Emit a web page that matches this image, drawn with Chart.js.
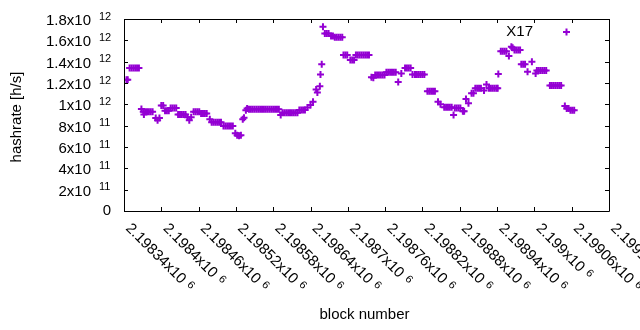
<!DOCTYPE html>
<html lang="en">
<head>
<meta charset="UTF-8">
<title>X17 hashrate</title>
<script src="https://cdn.jsdelivr.net/npm/chart.js@4.4.1/dist/chart.umd.min.js"></script>
<style>
  html, body { margin: 0; padding: 0; background: #fff; }
</style>
</head>
<body>
<canvas id="hashChart" width="640" height="330"></canvas>
<script>
// block numbers and hashrate, one line per run
const blocks = [
  2198344, 2198346,
  2198349, 2198352, 2198355, 2198358, 2198361, 2198364,
  2198368, 2198371, 2198372, 2198374, 2198377, 2198380, 2198383, 2198386,
  2198391, 2198394, 2198397,
  2198400, 2198403,
  2198406, 2198409, 2198412, 2198415, 2198418, 2198421, 2198424,
  2198427, 2198430, 2198433, 2198436, 2198439,
  2198442, 2198445, 2198448,
  2198452, 2198455, 2198458, 2198461, 2198464, 2198467, 2198470, 2198473,
  2198478, 2198481, 2198484, 2198487, 2198490, 2198493, 2198496,
  2198500, 2198503, 2198506, 2198509, 2198512, 2198515,
  2198519, 2198522, 2198525, 2198528,
  2198531, 2198533, 2198536, 2198538,
  2198541, 2198544, 2198547, 2198550, 2198553, 2198556, 2198559, 2198562, 2198565,
  2198568, 2198571, 2198574, 2198577, 2198580, 2198583, 2198586, 2198589,
  2198592, 2198595, 2198598, 2198601, 2198604, 2198607, 2198610, 2198613, 2198616, 2198619,
  2198622, 2198625, 2198628, 2198631,
  2198635, 2198640, 2198644, 2198649, 2198651, 2198655, 2198656, 2198658, 2198660,
  2198663, 2198666, 2198669,
  2198673, 2198676, 2198679, 2198682, 2198685, 2198688, 2198691,
  2198693, 2198696, 2198699,
  2198704, 2198707, 2198710,
  2198713, 2198716, 2198719, 2198722, 2198725, 2198728, 2198731, 2198734,
  2198738, 2198741, 2198744, 2198747, 2198750, 2198753, 2198756, 2198759,
  2198762, 2198765, 2198768, 2198771, 2198774, 2198777,
  2198781, 2198786, 2198792, 2198795, 2198798, 2198801, 2198804,
  2198808, 2198811, 2198814, 2198817, 2198820, 2198823,
  2198828, 2198831, 2198834, 2198837, 2198840,
  2198845, 2198849,
  2198855, 2198858, 2198861, 2198864, 2198867,
  2198870, 2198872, 2198875, 2198878, 2198881, 2198885, 2198887,
  2198890, 2198894, 2198899, 2198902,
  2198905, 2198908, 2198911, 2198914, 2198919, 2198923,
  2198927, 2198930, 2198933, 2198936, 2198939, 2198941,
  2198942, 2198946, 2198949, 2198952, 2198955, 2198959,
  2198963, 2198965, 2198968, 2198971, 2198974, 2198977,
  2198979, 2198982, 2198985, 2198989, 2198996,
  2199002, 2199004, 2199007, 2199010, 2199013, 2199016, 2199019,
  2199025, 2199028, 2199031, 2199034, 2199037, 2199040, 2199043,
  2199049, 2199052, 2199055, 2199058, 2199061, 2199064
];
const hashrate = [
  1.23e12, 1.23e12,
  1.34e12, 1.34e12, 1.34e12, 1.34e12, 1.34e12, 1.34e12,
  9.56e11, 9.3e11, 9.05e11, 9.3e11, 9.3e11, 9.3e11, 9.3e11, 9.3e11,
  8.72e11, 8.5e11, 8.72e11,
  9.9e11, 9.9e11,
  9.4e11, 9.4e11, 9.4e11, 9.65e11, 9.65e11, 9.65e11, 9.65e11,
  9.05e11, 9.05e11, 9.05e11, 9.05e11, 9.05e11,
  8.8e11, 8.5e11, 8.8e11,
  9.3e11, 9.3e11, 9.3e11, 9.3e11, 9.15e11, 9.15e11, 9.15e11, 9.15e11,
  8.6e11, 8.32e11, 8.32e11, 8.32e11, 8.32e11, 8.32e11, 8.32e11,
  7.97e11, 7.97e11, 7.97e11, 7.97e11, 7.97e11, 7.97e11,
  7.3e11, 7.1e11, 7.05e11, 7.1e11,
  8.6e11, 8.75e11, 9.45e11, 9.6e11,
  9.55e11, 9.55e11, 9.55e11, 9.55e11, 9.55e11, 9.55e11, 9.55e11, 9.55e11, 9.55e11,
  9.55e11, 9.55e11, 9.55e11, 9.55e11, 9.55e11, 9.55e11, 9.55e11, 9.55e11,
  9.0e11, 9.22e11, 9.22e11, 9.22e11, 9.22e11, 9.22e11, 9.22e11, 9.22e11, 9.22e11, 9.22e11,
  9.47e11, 9.47e11, 9.47e11, 9.47e11,
  9.7e11, 9.94e11, 1.025e12, 1.14e12, 1.11e12, 1.17e12, 1.28e12, 1.375e12, 1.728e12,
  1.665e12, 1.665e12, 1.665e12,
  1.64e12, 1.64e12, 1.628e12, 1.628e12, 1.628e12, 1.628e12, 1.628e12,
  1.4625e12, 1.4625e12, 1.4625e12,
  1.416e12, 1.416e12, 1.416e12,
  1.4625e12, 1.4625e12, 1.4625e12, 1.4625e12, 1.4625e12, 1.4625e12, 1.4625e12, 1.4625e12,
  1.253e12, 1.25e12, 1.275e12, 1.275e12, 1.275e12, 1.275e12, 1.275e12, 1.275e12,
  1.30e12, 1.30e12, 1.30e12, 1.30e12, 1.30e12, 1.30e12,
  1.21e12, 1.29e12, 1.34e12, 1.34e12, 1.34e12, 1.34e12, 1.28e12,
  1.28e12, 1.28e12, 1.28e12, 1.28e12, 1.28e12, 1.28e12,
  1.122e12, 1.122e12, 1.122e12, 1.122e12, 1.122e12,
  1.025e12, 1.0e12,
  9.72e11, 9.72e11, 9.72e11, 9.72e11, 9.72e11,
  9.0e11, 9.65e11, 9.65e11, 9.65e11, 9.65e11, 9.35e11, 9.35e11,
  1.05e12, 1.01e12, 1.105e12, 1.105e12,
  1.15e12, 1.15e12, 1.15e12, 1.15e12, 1.13e12, 1.185e12,
  1.15e12, 1.15e12, 1.15e12, 1.15e12, 1.15e12, 1.15e12,
  1.284e12, 1.497e12, 1.497e12, 1.497e12, 1.497e12, 1.453e12,
  1.54e12, 1.53e12, 1.51e12, 1.51e12, 1.51e12, 1.51e12,
  1.375e12, 1.375e12, 1.375e12, 1.306e12, 1.40e12,
  1.29e12, 1.318e12, 1.318e12, 1.318e12, 1.318e12, 1.318e12, 1.318e12,
  1.177e12, 1.177e12, 1.177e12, 1.177e12, 1.177e12, 1.177e12, 1.177e12,
  9.84e11, 9.6e11, 9.6e11, 9.45e11, 9.45e11, 9.45e11
];

const xTicks = [2198340, 2198400, 2198460, 2198520, 2198580, 2198640, 2198700,
  2198760, 2198820, 2198880, 2198940, 2199000, 2199060, 2199120];
const xTickLabels = ['2.19834x10', '2.1984x10', '2.19846x10', '2.19852x10', '2.19858x10',
  '2.19864x10', '2.1987x10', '2.19876x10', '2.19882x10', '2.19888x10', '2.19894x10',
  '2.199x10', '2.19906x10', '2.19912x10'];
const xTickPowers = ['6', '6', '6', '6', '6', '6', '6', '6', '6', '6', '6', '6', '6', '6'];

const yTicks = [0, 2e11, 4e11, 6e11, 8e11, 1e12, 1.2e12, 1.4e12, 1.6e12, 1.8e12];
const yTickLabels = ['0', '2x10', '4x10', '6x10', '8x10', '1x10', '1.2x10', '1.4x10', '1.6x10', '1.8x10'];
const yTickPowers = ['', '11', '11', '11', '11', '12', '12', '12', '12', '12'];

const seriesName = 'X17';
const purple = '#9400d3';
const font = '"Liberation Sans", Arial, sans-serif';

// gnuplot look: frame, inward ticks on all sides, labels with superscripts, key
const gnuplotFrame = {
  id: 'gnuplotFrame',
  afterDraw(chart) {
    const { ctx, chartArea: a, scales: { x, y } } = chart;
    const tickLen = 4;
    ctx.save();

    ctx.strokeStyle = '#000';
    ctx.lineWidth = 1;
    ctx.beginPath();
    ctx.rect(a.left + 0.5, a.top + 0.5, a.right - a.left, a.bottom - a.top);
    xTicks.forEach(v => {
      const px = Math.round(x.getPixelForValue(v)) + 0.5;
      ctx.moveTo(px, a.bottom); ctx.lineTo(px, a.bottom - tickLen);
      ctx.moveTo(px, a.top); ctx.lineTo(px, a.top + tickLen);
    });
    yTicks.forEach(v => {
      const py = Math.round(y.getPixelForValue(v)) + 0.5;
      ctx.moveTo(a.left, py); ctx.lineTo(a.left + tickLen, py);
      ctx.moveTo(a.right, py); ctx.lineTo(a.right - tickLen, py);
    });
    ctx.stroke();

    ctx.fillStyle = '#000';
    ctx.textBaseline = 'middle';

    // y tick labels
    yTicks.forEach((v, i) => {
      const py = y.getPixelForValue(v);
      ctx.font = '15px ' + font;
      ctx.textAlign = 'right';
      if (!yTickPowers[i]) {
        ctx.fillText(yTickLabels[i], a.left - 13, py);
        return;
      }
      ctx.fillText(yTickLabels[i], a.left - 33, py + 2);
      ctx.font = '11px ' + font;
      ctx.textAlign = 'left';
      ctx.fillText(yTickPowers[i], a.left - 25, py - 2.5);
    });

    // x tick labels, rotated by -45 (gnuplot sense)
    xTicks.forEach((v, i) => {
      const px = x.getPixelForValue(v);
      ctx.save();
      ctx.translate(px + 4, a.bottom + 15);
      ctx.rotate(Math.PI / 4);
      ctx.font = '15px ' + font;
      ctx.textAlign = 'left';
      ctx.fillText(xTickLabels[i], 0, 0);
      const w = ctx.measureText(xTickLabels[i]).width;
      ctx.font = '11px ' + font;
      ctx.fillText(xTickPowers[i], w + 5, -2.5);
      ctx.restore();
    });

    // axis titles
    ctx.font = '15px ' + font;
    ctx.textAlign = 'center';
    ctx.fillText('block number', (a.left + a.right) / 2 - 2, 315);
    ctx.save();
    ctx.translate(17, (a.top + a.bottom) / 2 + 2);
    ctx.rotate(-Math.PI / 2);
    ctx.fillText('hashrate [h/s]', 0, 0);
    ctx.restore();

    // key, top right: title then sample
    ctx.textAlign = 'right';
    ctx.fillText(seriesName, a.right - 76, a.top + 13);
    const kx = a.right - 42.5, ky = a.top + 13;
    ctx.strokeStyle = purple;
    ctx.lineWidth = 2;
    ctx.beginPath();
    ctx.moveTo(kx - 3.5, ky); ctx.lineTo(kx + 3.5, ky);
    ctx.moveTo(kx, ky - 3.5); ctx.lineTo(kx, ky + 3.5);
    ctx.stroke();

    ctx.restore();
  }
};

new Chart(document.getElementById('hashChart'), {
  type: 'scatter',
  data: {
    datasets: [{
      label: seriesName,
      data: blocks.map((b, i) => ({ x: b, y: hashrate[i] })),
      pointStyle: 'cross',
      pointRadius: 3.5,
      pointHoverRadius: 3.5,
      borderColor: purple,
      backgroundColor: purple,
      borderWidth: 2
    }]
  },
  options: {
    responsive: false,
    animation: false,
    devicePixelRatio: 1,
    layout: { padding: { left: 124, right: 31, top: 19, bottom: 119 } },
    plugins: { legend: { display: false }, tooltip: { enabled: false } },
    scales: {
      x: { type: 'linear', display: false, min: 2198340, max: 2199120 },
      y: { type: 'linear', display: false, min: 0, max: 1.8e12 }
    }
  },
  plugins: [gnuplotFrame]
});
</script>
</body>
</html>
